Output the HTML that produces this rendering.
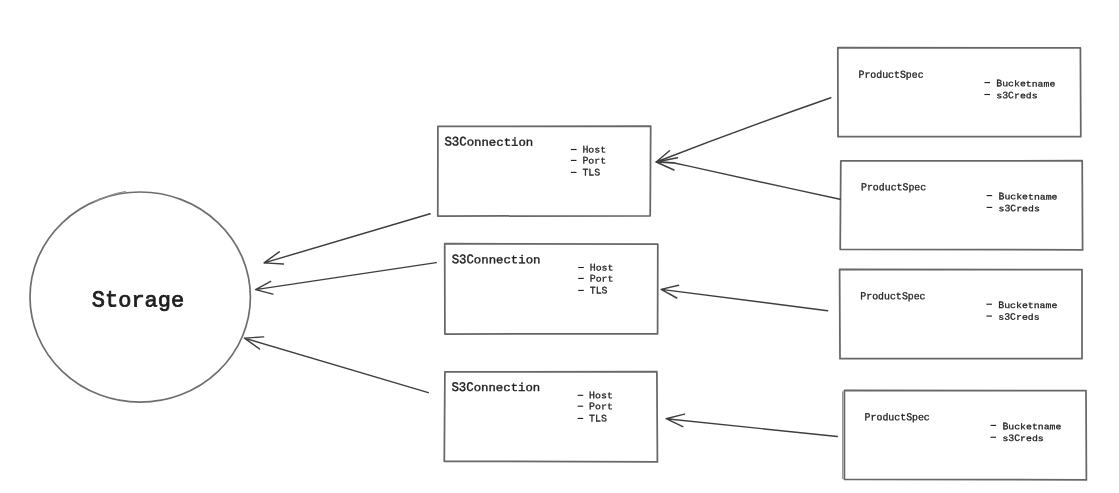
<!DOCTYPE html><html><head><meta charset="utf-8"><style>html,body{margin:0;padding:0;background:#fff;width:1119px;height:493px;overflow:hidden}svg{display:block;will-change:transform}text{white-space:pre}</style></head><body>
<svg width="1119" height="493" viewBox="0 0 1119 493">
<g fill="none" stroke="#676767" stroke-width="1.75" stroke-linecap="round" stroke-linejoin="round">
<ellipse cx="140.2" cy="297.1" rx="110.2" ry="105.1" stroke="#6e6e6e" stroke-width="1.7"/>
<path d="M95.0 201.6 Q108 194.6 125.5 191.5" stroke="#8c8c8c" stroke-width="1.2"/>
<path d="M437.9 126.4 L650.7 126.1 L650.2 215.8 L437.8 216.1 Z"/>
<path d="M444.7 243.7 L657.8 244.1 L657.6 333.8 L444.9 334.0 Z"/>
<path d="M444.9 371.9 L656.9 371.7 L657.4 461.9 L444.3 461.3 Z"/>
<path d="M837.8 47.7 L1080.4 47.9 L1080.8 136.7 L838.0 136.7 Z"/>
<path d="M840.8 160.9 L1082.2 160.7 L1082.6 249.9 L840.2 249.3 Z"/>
<path d="M839.6 269.3 L1082.0 269.7 L1082.0 358.7 L840.0 358.7 Z"/>
<path d="M844.4 390.4 L1086.0 390.6 L1086.4 479.9 L844.4 479.3 Z"/>
<path d="M842.6 391.8 L842.6 478.5" stroke="#9a9a9a" stroke-width="1.2"/>
</g>
<g fill="none" stroke="#3e3e3e" stroke-width="1.45" stroke-linecap="round" stroke-linejoin="round">
<path d="M430.1 213.8 L264.1 262.9 M279.2 251.8 L264.1 262.9 L283.5 264.0"/>
<path d="M436.2 262.6 L255.6 289.6 M270.7 281.4 L255.6 289.6 L272.9 294.1"/>
<path d="M428.3 392.6 L244.4 338.1 M263.6 336.9 L244.4 338.1 L259.6 349.0"/>
<path d="M830.8 97.8 Q743.6 128.2 656.2 162.0 M669.5 150.8 L656.2 162.0 L674.2 162.6"/>
<path d="M840.1 199.3 L790.0 188.4 L690.0 166.4 L674.4 163.0 L656.2 162.0 M677.4 157.8 L656.2 162.0 L674.0 170.0"/>
<path d="M827.7 310.7 L661.1 289.4 M678.6 285.3 L661.1 289.4 L676.8 298.0"/>
<path d="M837.3 436.5 L666.1 418.7 M684.4 414.1 L666.1 418.7 L682.8 426.6"/>
</g>
<g fill="#1e1e1e" stroke="#1e1e1e" font-family="Liberation Mono, monospace">
<text x="0" y="0" font-size="22.00" stroke-width="0.80" transform="translate(91.80 306.50) rotate(0.05) scale(1 1.040)">St</text>
<text x="0" y="0" font-size="22.00" stroke-width="0.80" transform="translate(91.80 306.50) rotate(0.05) scale(1 0.967)">  orage</text>
<text x="0" y="0" font-size="12.35" stroke-width="0.40" transform="translate(444.45 145.60) rotate(0.05) scale(1 1.060)">S3C</text>
<text x="0" y="0" font-size="12.35" stroke-width="0.40" transform="translate(444.45 145.60) rotate(0.05) scale(1 0.922)">   onnection</text>
<text x="0" y="0" font-size="12.35" stroke-width="0.40" transform="translate(451.65 263.30) rotate(0.05) scale(1 1.060)">S3C</text>
<text x="0" y="0" font-size="12.35" stroke-width="0.40" transform="translate(451.65 263.30) rotate(0.05) scale(1 0.922)">   onnection</text>
<text x="0" y="0" font-size="12.35" stroke-width="0.40" transform="translate(451.45 391.00) rotate(0.05) scale(1 1.060)">S3C</text>
<text x="0" y="0" font-size="12.35" stroke-width="0.40" transform="translate(451.45 391.00) rotate(0.05) scale(1 0.922)">   onnection</text>
<text x="0" y="0" font-size="9.90" stroke-width="0.30" transform="translate(582.40 152.55) rotate(0.05) scale(1 1.020)">H</text>
<text x="0" y="0" font-size="9.90" stroke-width="0.30" transform="translate(582.40 152.55) rotate(0.05) scale(1 0.887)"> ost</text>
<text x="0" y="0" font-size="9.90" stroke-width="0.30" transform="translate(582.40 163.45) rotate(0.05) scale(1 1.020)">P</text>
<text x="0" y="0" font-size="9.90" stroke-width="0.30" transform="translate(582.40 163.45) rotate(0.05) scale(1 0.887)"> ort</text>
<text x="0" y="0" font-size="9.90" stroke-width="0.30" transform="translate(582.40 175.45) rotate(0.05) scale(1 1.020)">TLS</text>
<text x="0" y="0" font-size="9.90" stroke-width="0.30" transform="translate(589.70 270.55) rotate(0.05) scale(1 1.020)">H</text>
<text x="0" y="0" font-size="9.90" stroke-width="0.30" transform="translate(589.70 270.55) rotate(0.05) scale(1 0.887)"> ost</text>
<text x="0" y="0" font-size="9.90" stroke-width="0.30" transform="translate(589.70 281.45) rotate(0.05) scale(1 1.020)">P</text>
<text x="0" y="0" font-size="9.90" stroke-width="0.30" transform="translate(589.70 281.45) rotate(0.05) scale(1 0.887)"> ort</text>
<text x="0" y="0" font-size="9.90" stroke-width="0.30" transform="translate(589.70 293.45) rotate(0.05) scale(1 1.020)">TLS</text>
<text x="0" y="0" font-size="9.90" stroke-width="0.30" transform="translate(589.10 398.35) rotate(0.05) scale(1 1.020)">H</text>
<text x="0" y="0" font-size="9.90" stroke-width="0.30" transform="translate(589.10 398.35) rotate(0.05) scale(1 0.887)"> ost</text>
<text x="0" y="0" font-size="9.90" stroke-width="0.30" transform="translate(589.10 409.25) rotate(0.05) scale(1 1.020)">P</text>
<text x="0" y="0" font-size="9.90" stroke-width="0.30" transform="translate(589.10 409.25) rotate(0.05) scale(1 0.887)"> ort</text>
<text x="0" y="0" font-size="9.90" stroke-width="0.30" transform="translate(589.10 421.45) rotate(0.05) scale(1 1.020)">TLS</text>
<text x="0" y="0" font-size="9.90" stroke-width="0.30" transform="translate(858.45 77.70) rotate(0.05) scale(1 1.070)">P      S</text>
<text x="0" y="0" font-size="9.90" stroke-width="0.30" transform="translate(858.45 77.70) rotate(0.05) scale(1 1.006)"> roduct pec</text>
<text x="0" y="0" font-size="9.90" stroke-width="0.30" transform="translate(861.00 190.20) rotate(0.05) scale(1 1.070)">P      S</text>
<text x="0" y="0" font-size="9.90" stroke-width="0.30" transform="translate(861.00 190.20) rotate(0.05) scale(1 1.006)"> roduct pec</text>
<text x="0" y="0" font-size="9.90" stroke-width="0.30" transform="translate(860.30 299.20) rotate(0.05) scale(1 1.070)">P      S</text>
<text x="0" y="0" font-size="9.90" stroke-width="0.30" transform="translate(860.30 299.20) rotate(0.05) scale(1 1.006)"> roduct pec</text>
<text x="0" y="0" font-size="9.90" stroke-width="0.30" transform="translate(864.60 420.30) rotate(0.05) scale(1 1.070)">P      S</text>
<text x="0" y="0" font-size="9.90" stroke-width="0.30" transform="translate(864.60 420.30) rotate(0.05) scale(1 1.006)"> roduct pec</text>
<text x="0" y="0" font-size="9.85" stroke-width="0.30" transform="translate(996.30 86.35) rotate(0.05) scale(1 1.000)">B</text>
<text x="0" y="0" font-size="9.85" stroke-width="0.30" transform="translate(996.30 86.35) rotate(0.05) scale(1 0.860)"> ucketname</text>
<text x="0" y="0" font-size="9.85" stroke-width="0.30" transform="translate(996.30 98.25) rotate(0.05) scale(1 1.000)"> 3C</text>
<text x="0" y="0" font-size="9.85" stroke-width="0.30" transform="translate(996.30 98.25) rotate(0.05) scale(1 0.860)">s  reds</text>
<text x="0" y="0" font-size="9.85" stroke-width="0.30" transform="translate(998.50 199.35) rotate(0.05) scale(1 1.000)">B</text>
<text x="0" y="0" font-size="9.85" stroke-width="0.30" transform="translate(998.50 199.35) rotate(0.05) scale(1 0.860)"> ucketname</text>
<text x="0" y="0" font-size="9.85" stroke-width="0.30" transform="translate(998.50 211.15) rotate(0.05) scale(1 1.000)"> 3C</text>
<text x="0" y="0" font-size="9.85" stroke-width="0.30" transform="translate(998.50 211.15) rotate(0.05) scale(1 0.860)">s  reds</text>
<text x="0" y="0" font-size="9.85" stroke-width="0.30" transform="translate(998.30 307.95) rotate(0.05) scale(1 1.000)">B</text>
<text x="0" y="0" font-size="9.85" stroke-width="0.30" transform="translate(998.30 307.95) rotate(0.05) scale(1 0.860)"> ucketname</text>
<text x="0" y="0" font-size="9.85" stroke-width="0.30" transform="translate(998.30 319.80) rotate(0.05) scale(1 1.000)"> 3C</text>
<text x="0" y="0" font-size="9.85" stroke-width="0.30" transform="translate(998.30 319.80) rotate(0.05) scale(1 0.860)">s  reds</text>
<text x="0" y="0" font-size="9.85" stroke-width="0.30" transform="translate(1002.40 429.15) rotate(0.05) scale(1 1.000)">B</text>
<text x="0" y="0" font-size="9.85" stroke-width="0.30" transform="translate(1002.40 429.15) rotate(0.05) scale(1 0.860)"> ucketname</text>
<text x="0" y="0" font-size="9.85" stroke-width="0.30" transform="translate(1002.40 441.00) rotate(0.05) scale(1 1.000)"> 3C</text>
<text x="0" y="0" font-size="9.85" stroke-width="0.30" transform="translate(1002.40 441.00) rotate(0.05) scale(1 0.860)">s  reds</text>
</g>
<g fill="#1e1e1e">
<rect x="570.90" y="148.95" width="5.60" height="1.10"/>
<rect x="570.90" y="159.85" width="5.60" height="1.10"/>
<rect x="570.90" y="171.85" width="5.60" height="1.10"/>
<rect x="578.20" y="266.95" width="5.60" height="1.10"/>
<rect x="578.20" y="277.85" width="5.60" height="1.10"/>
<rect x="578.20" y="289.85" width="5.60" height="1.10"/>
<rect x="577.60" y="394.75" width="5.60" height="1.10"/>
<rect x="577.60" y="405.65" width="5.60" height="1.10"/>
<rect x="577.60" y="417.85" width="5.60" height="1.10"/>
<rect x="984.40" y="82.05" width="5.60" height="1.10"/>
<rect x="984.40" y="93.95" width="5.60" height="1.10"/>
<rect x="986.60" y="195.05" width="5.60" height="1.10"/>
<rect x="986.60" y="206.85" width="5.60" height="1.10"/>
<rect x="986.40" y="303.65" width="5.60" height="1.10"/>
<rect x="986.40" y="315.50" width="5.60" height="1.10"/>
<rect x="990.50" y="424.85" width="5.60" height="1.10"/>
<rect x="990.50" y="436.70" width="5.60" height="1.10"/>
</g>
</svg></body></html>
